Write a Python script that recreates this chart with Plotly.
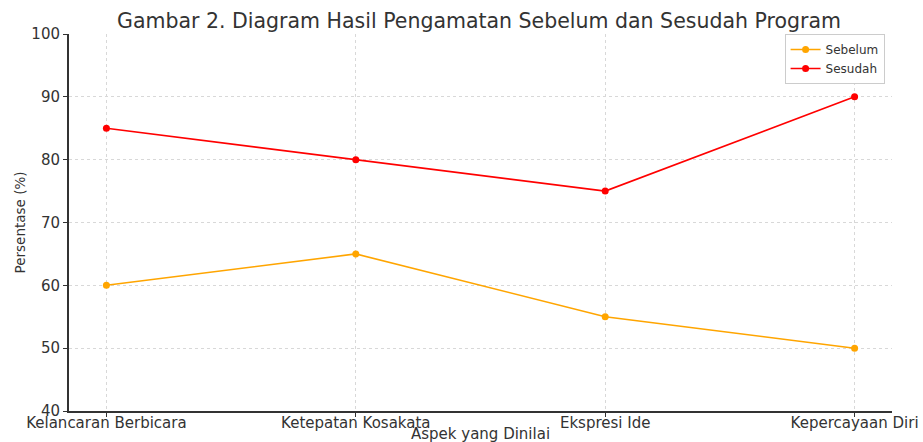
import plotly.graph_objects as go

categories = ["Kelancaran Berbicara", "Ketepatan Kosakata", "Ekspresi Ide", "Kepercayaan Diri"]
sebelum = [60, 65, 55, 50]
sesudah = [85, 80, 75, 90]
y_ticks = [40, 50, 60, 70, 80, 90, 100]

fig = go.Figure()
fig.add_trace(go.Scatter(x=categories, y=sebelum, name="Sebelum", mode="lines+markers",
                         line=dict(color="orange", width=1.6), marker=dict(size=7, color="orange")))
fig.add_trace(go.Scatter(x=categories, y=sesudah, name="Sesudah", mode="lines+markers",
                         line=dict(color="red", width=1.6), marker=dict(size=7, color="red")))

font = "DejaVu Sans"
fig.update_layout(
    width=923, height=442,
    margin=dict(l=69, r=31, t=34, b=31, autoexpand=False),
    plot_bgcolor="white", paper_bgcolor="white",
    font=dict(family=font, size=15, color="#333"),
    title=dict(text="Gambar 2. Diagram Hasil Pengamatan Sebelum dan Sesudah Program",
               x=0.519, xanchor="center", y=0.952, yanchor="middle",
               font=dict(size=20.5, family=font, color="#333")),
    legend=dict(x=0.991, y=1.0, xanchor="right", yanchor="top",
                bordercolor="#ccc", borderwidth=1, bgcolor="white",
                font=dict(size=12, family=font, color="#333"), tracegroupgap=0,
                itemwidth=30),
    showlegend=True,
    annotations=[dict(text="Aspek yang Dinilai", xref="paper", yref="paper",
                      x=0.5, y=-(434 - 411) / 377, xanchor="center", yanchor="middle",
                      showarrow=False, font=dict(size=15, family=font, color="#333"))],
)
fig.update_xaxes(
    range=[-0.15, 3.15], showgrid=True, gridcolor="#d8d8d8", griddash="dot", gridwidth=1,
    showline=True, linecolor="#333", linewidth=2, ticks="outside", ticklen=4, tickcolor="#333",
    tickfont=dict(size=15), zeroline=False, automargin=False, ticklabelstandoff=-7,
)
fig.update_yaxes(
    range=[40, 100], tickvals=y_ticks, showgrid=True, gridcolor="#d8d8d8", griddash="dot", gridwidth=1,
    showline=True, linecolor="#333", linewidth=2, ticks="outside", ticklen=4, tickcolor="#333",
    tickfont=dict(size=15), zeroline=False, automargin=True,
    title=dict(text="Persentase (%)", standoff=3, font=dict(size=13.5)),
)
fig.write_html("out.html", config={"displayModeBar": False},
               post_script="document.body.style.margin='0';document.body.style.overflow='hidden';")
